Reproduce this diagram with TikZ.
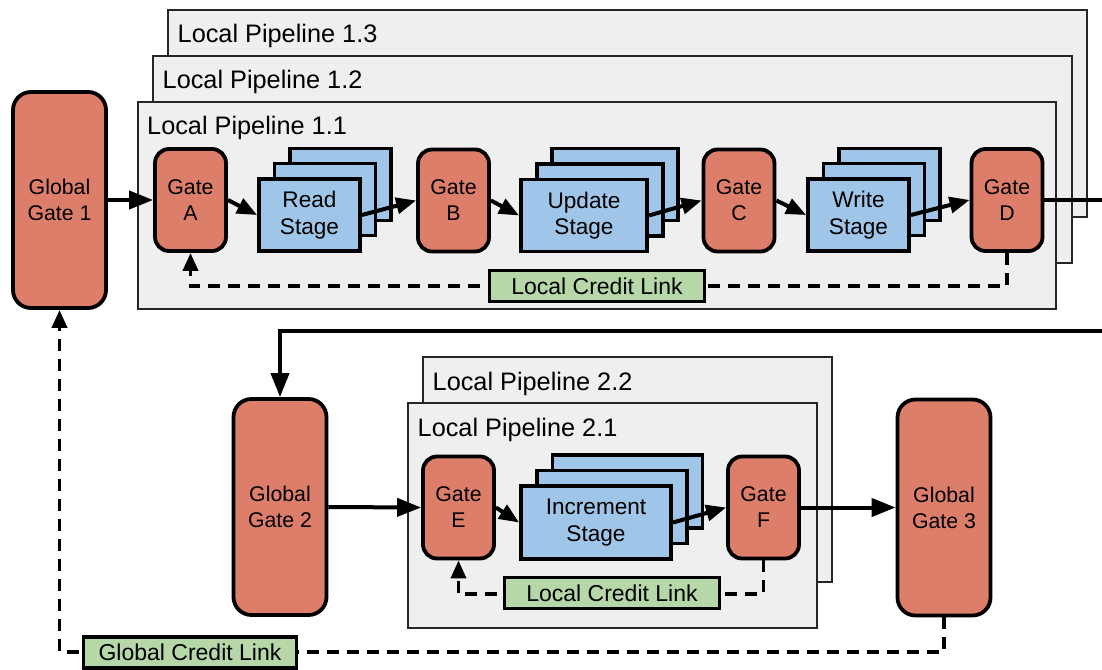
\documentclass[tikz,border=0pt]{standalone}
\usepackage{fontspec}
\setmainfont{Liberation Sans}
\usetikzlibrary{arrows.meta}
\definecolor{gatered}{HTML}{DD7E6B}
\definecolor{stageblue}{HTML}{9FC5E8}
\definecolor{creditgreen}{HTML}{B6D7A8}
\definecolor{pipegray}{HTML}{EFEFEF}
\begin{document}
\begin{tikzpicture}[x=1pt,y=-1pt,
  gate/.style={draw=black, fill=gatered, line width=3.8pt, rounded corners=14pt,
    minimum width=71pt, minimum height=102pt, align=center,
    font=\fontsize{21.3}{26}\selectfont, inner sep=0pt},
  globalgate/.style={gate, rounded corners=18pt, minimum width=93pt, minimum height=216pt},
  stagebox/.style={draw=black, fill=stageblue, line width=3.8pt, minimum height=72pt,
    align=center, font=\fontsize{22.6}{26.5}\selectfont, inner sep=0pt},
  creditbox/.style={draw=black, fill=creditgreen, line width=3.2pt, minimum width=215pt,
    minimum height=31pt, font=\fontsize{23}{27}\selectfont, inner sep=0pt},
  pipebox/.style={draw=black!85, fill=pipegray, line width=2pt},
  pipelabel/.style={anchor=base west, font=\fontsize{25.3}{30}\selectfont, inner sep=0pt},
  flow/.style={line width=4pt, -{Triangle[length=20pt,width=16pt]}},
  bigflow/.style={line width=4pt, -{Triangle[length=24pt,width=18pt]}},
  credit/.style={line width=3.7pt, dash pattern=on 12pt off 8pt},
  creditarrow/.style={credit, -{Triangle[length=18pt,width=15pt]}},
]
\useasboundingbox (0,0) rectangle (1102,669);
\clip (0,0) rectangle (1102,669);
\fill[white] (0,0) rectangle (1102,669);

% pipeline frames, top group
\draw[pipebox] (168,10) rectangle (1087,217);
\node[pipelabel] (lp13) at (177.5,42) {Local Pipeline 1.3};
\draw[pipebox] (153,56) rectangle (1072,263);
\node[pipelabel] (lp12) at (162.5,88) {Local Pipeline 1.2};
\draw[pipebox] (138,102) rectangle (1056,309);
\node[pipelabel] (lp11) at (147,134) {Local Pipeline 1.1};

% pipeline frames, bottom group
\draw[pipebox] (423,357) rectangle (832,582);
\node[pipelabel] (lp22) at (432.5,390) {Local Pipeline 2.2};
\draw[pipebox] (408,403) rectangle (817,628);
\node[pipelabel] (lp21) at (417.5,436) {Local Pipeline 2.1};

% gates
\node[globalgate] (G1) at (59.5,200) {Global\\Gate 1};
\node[gate] (A) at (190.5,200) {Gate\\A};
\node[gate] (B) at (453.5,200.5) {Gate\\B};
\node[gate] (C) at (739,200.5) {Gate\\C};
\node[gate] (D) at (1007,200) {Gate\\D};
\node[globalgate] (G2) at (280,507) {Global\\Gate 2};
\node[gate] (E) at (458.5,507.5) {Gate\\E};
\node[gate] (F) at (763.5,507.5) {Gate\\F};
\node[globalgate] (G3) at (944,507.5) {Global\\Gate 3};

% stage stacks
\node[stagebox, minimum width=101pt] (rs3) at (340.5,184.5) {};
\node[stagebox, minimum width=101pt] (rs2) at (325,199.5) {};
\node[stagebox, minimum width=101pt] (rs1) at (309.5,215) {Read\\Stage};
\node[stagebox, minimum width=126pt] (us3) at (615,184.5) {};
\node[stagebox, minimum width=126pt] (us2) at (600,200) {};
\node[stagebox, minimum width=126pt] (us1) at (584,215.5) {Update\\Stage};
\node[stagebox, minimum width=101pt] (ws3) at (889.5,184.5) {};
\node[stagebox, minimum width=101pt] (ws2) at (874,199.5) {};
\node[stagebox, minimum width=101pt] (ws1) at (858.5,215) {Write\\Stage};
\node[stagebox, minimum width=150pt, minimum height=73pt] (is3) at (627.5,491.5) {};
\node[stagebox, minimum width=150pt, minimum height=73pt] (is2) at (612,507) {};
\node[stagebox, minimum width=150pt, minimum height=73pt] (is1) at (596,522.5) {Increment\\Stage};

% forward flow
\draw[bigflow] (G1.east) -- (A.west);
\draw[flow] (A.east) -- (rs1.west);
\draw[flow] (rs1.east) -- (B.west);
\draw[flow] (B.east) -- (us1.west);
\draw[flow] (us1.east) -- (C.west);
\draw[flow] (C.east) -- (ws1.west);
\draw[flow] (ws1.east) -- (D.west);
\coordinate (r1) at (1130,200);
\coordinate (r2) at (1130,331);
\draw[bigflow] (D.east) -- (r1) -- (r2) -| (G2.north);
\draw[bigflow] (G2.east) -- (E.west);
\draw[flow] (E.east) -- (is1.west);
\draw[flow] (is1.east) -- (F.west);
\draw[bigflow] (F.east) -- (G3.west);

% credit links
\coordinate (c1) at (1007,286);
\coordinate (c2) at (190.5,286);
\draw[creditarrow] (D.south) -- (c1) -- (c2) -- (A.south);
\node[creditbox] (L1) at (597,286) {Local Credit Link};
\coordinate (c3) at (763.5,594);
\coordinate (c4) at (458.5,594);
\draw[creditarrow] (F.south) -- (c3) -- (c4) -- (E.south);
\node[creditbox] (L2) at (612,593) {Local Credit Link};
\coordinate (c5) at (944,652);
\coordinate (c6) at (59.5,652);
\draw[creditarrow] (G3.south) -- (c5) -- (c6) -- (G1.south);
\node[creditbox, minimum width=213pt] (GC) at (190,652.5) {Global Credit Link};
\end{tikzpicture}
\end{document}
